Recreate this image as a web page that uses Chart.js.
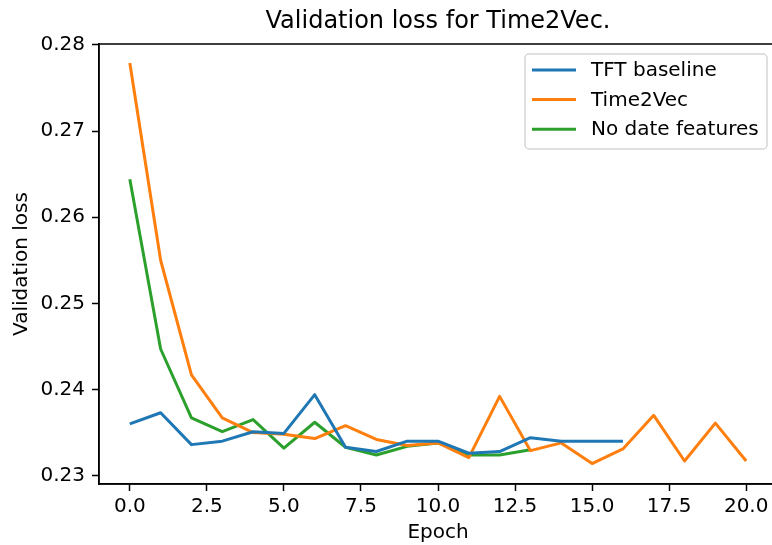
<!DOCTYPE html>
<html>
<head>
<meta charset="utf-8">
<script src="https://cdn.jsdelivr.net/npm/chart.js@4/dist/chart.umd.min.js"></script>
<style>
  html, body { margin: 0; padding: 0; background: #fff; }
  #wrap { width: 772px; height: 545px; overflow: hidden; }
</style>
</head>
<body>
<div id="wrap"><canvas id="lossChart" width="778" height="545"></canvas></div>
<script>
"use strict";

var epochs = [0, 1, 2, 3, 4, 5, 6, 7, 8, 9, 10, 11, 12, 13, 14, 15, 16, 17, 18, 19, 20];
var tftBaseline = [0.2360, 0.2373, 0.2336, 0.2340, 0.2351, 0.2349, 0.2394, 0.2333, 0.2328, 0.2340,
                   0.2340, 0.2326, 0.2328, 0.2344, 0.2340, 0.2340, 0.2340];
var time2Vec = [0.2779, 0.2550, 0.2417, 0.2367, 0.2350, 0.2348, 0.2343, 0.2358, 0.2342, 0.2335,
                0.2338, 0.2321, 0.2392, 0.2329, 0.2338, 0.2314, 0.2331, 0.2370, 0.2317, 0.2361, 0.2317];
var noDateFeatures = [0.2644, 0.2447, 0.2367, 0.2351, 0.2365, 0.2332, 0.2362, 0.2333, 0.2324, 0.2334,
                      0.2338, 0.2324, 0.2324, 0.2330];
var xTicks = [0, 2.5, 5, 7.5, 10, 12.5, 15, 17.5, 20];
var yTicks = [0.23, 0.24, 0.25, 0.26, 0.27, 0.28];

var FONT = "'DejaVu Sans', 'Liberation Sans', sans-serif";

function toPoints(values) {
    return values.map(function(v, i) { return { x: epochs[i], y: v }; });
}

// frame + title + matplotlib-like legend box
var decorations = {
    id: "decorations",
    afterDraw: function(chart) {
        var ctx = chart.ctx;
        var a = chart.chartArea;
        ctx.save();
        ctx.strokeStyle = "#000";
        ctx.lineWidth = 1.5;
        ctx.strokeRect(a.left, a.top, a.right - a.left, a.bottom - a.top);

        ctx.fillStyle = "#000";
        ctx.font = "24px " + FONT;
        ctx.textAlign = "center";
        ctx.textBaseline = "middle";
        ctx.fillText("Validation loss for Time2Vec.", (a.left + 771) / 2 + 3, 22);

        var bx = a.right - 10 - 242, by = a.top + 10, bw = 242, bh = 95;
        ctx.beginPath();
        ctx.roundRect(bx, by, bw, bh, 4);
        ctx.fillStyle = "rgba(255,255,255,0.8)";
        ctx.fill();
        ctx.strokeStyle = "#d6d6d6";
        ctx.lineWidth = 1.5;
        ctx.stroke();

        ctx.font = "20px " + FONT;
        ctx.textAlign = "left";
        chart.data.datasets.forEach(function(ds, i) {
            var y = by + 16 + i * 29.6;
            ctx.beginPath();
            ctx.moveTo(bx + 7, y);
            ctx.lineTo(bx + 51, y);
            ctx.strokeStyle = ds.borderColor;
            ctx.lineWidth = 3;
            ctx.stroke();
            ctx.fillStyle = "#000";
            ctx.fillText(ds.label, bx + 66, y + 1);
        });
        ctx.restore();
    }
};

new Chart(document.getElementById("lossChart"), {
    type: "line",
    data: {
        datasets: [{
            label: "TFT baseline",
            data: toPoints(tftBaseline),
            borderColor: "#1f77b4"
        }, {
            label: "Time2Vec",
            data: toPoints(time2Vec),
            borderColor: "#ff7f0e"
        }, {
            label: "No date features",
            data: toPoints(noDateFeatures),
            borderColor: "#2ca02c"
        }]
    },
    options: {
        responsive: false,
        devicePixelRatio: 1,
        animation: false,
        layout: {
            padding: { top: 44, right: 1, left: 0, bottom: 0 }
        },
        elements: {
            line: { borderWidth: 3, tension: 0, borderCapStyle: "butt", borderJoinStyle: "round" },
            point: { radius: 0 }
        },
        scales: {
            x: {
                type: "linear",
                min: -1,
                max: 21,
                afterFit: function(scale) { scale.height = 61; },
                afterBuildTicks: function(scale) {
                    scale.ticks = xTicks.map(function(v) { return { value: v }; });
                },
                ticks: {
                    color: "#000",
                    font: { family: FONT, size: 20 },
                    padding: 4,
                    maxRotation: 0,
                    autoSkip: false,
                    callback: function(v) { return v.toFixed(1); }
                },
                grid: {
                    drawOnChartArea: false,
                    drawTicks: true,
                    tickLength: 7,
                    tickColor: "#000",
                    tickWidth: 1.5
                },
                border: { display: true, color: "#000", width: 1.5 },
                title: {
                    display: true,
                    text: "Epoch",
                    color: "#000",
                    font: { family: FONT, size: 20 },
                    padding: { top: 0, bottom: 0 }
                }
            },
            y: {
                min: 0.22903,
                max: 0.28010,
                afterFit: function(scale) { scale.width = 99; },
                afterBuildTicks: function(scale) {
                    scale.ticks = yTicks.map(function(v) { return { value: v }; });
                },
                ticks: {
                    color: "#000",
                    font: { family: FONT, size: 20 },
                    padding: 7,
                    autoSkip: false,
                    callback: function(v) { return v.toFixed(2); }
                },
                grid: {
                    drawOnChartArea: false,
                    drawTicks: true,
                    tickLength: 7,
                    tickColor: "#000",
                    tickWidth: 1.5
                },
                border: { display: true, color: "#000", width: 1.5 },
                title: {
                    display: true,
                    text: "Validation loss",
                    color: "#000",
                    font: { family: FONT, size: 20 },
                    padding: { top: 10, bottom: 0 }
                }
            }
        },
        plugins: {
            legend: { display: false },
            title: { display: false },
            tooltip: { enabled: false }
        }
    },
    plugins: [decorations]
});
</script>
</body>
</html>
